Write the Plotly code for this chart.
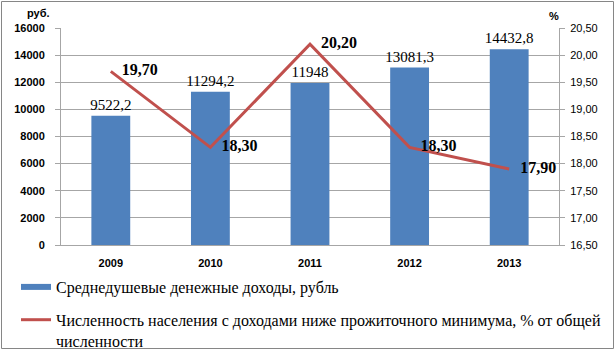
import plotly.graph_objects as go

years = ["2009", "2010", "2011", "2012", "2013"]
income = [9522.2, 11294.2, 11948, 13081.3, 14432.8]
poverty = [19.70, 18.30, 20.20, 18.30, 17.90]

name_income = "Среднедушевые денежные доходы, рубль"
name_poverty = "Численность населения с доходами ниже прожиточного минимума, % от общей<br>численности"

BLUE = "#4F81BD"
RED = "#C0504D"
GRID = "#A6A6A6"


def fmt(v):
    s = ("%g" % v)
    return s.replace(".", ",")


income_text = [fmt(v) for v in income]

W, H = 616, 355
ML, MR, MT, MB = 61, 57, 28, 110
PW = W - ML - MR
PH = H - MT - MB


def px_x(x):
    return (x - ML) / PW


def px_y(y):
    return (MT + PH - y) / PH


fig = go.Figure()
fig.add_trace(go.Bar(
    x=years, y=income, marker=dict(color=BLUE, line=dict(width=0)),
    text=income_text, textposition="outside", cliponaxis=False,
    constraintext="none",
    textfont=dict(family="Liberation Serif", size=15, color="#000"),
    showlegend=False, name=name_income, hoverinfo="skip",
))
fig.add_trace(go.Scatter(
    x=years, y=poverty, yaxis="y2", mode="lines+markers+text",
    line=dict(color=RED, width=3),
    marker=dict(size=16, opacity=0, color=RED),
    texttemplate="%{y:.2f}", textposition="middle right",
    textfont=dict(family="Liberation Serif", size=16, color="#000", weight="bold"),
    cliponaxis=False, showlegend=False, name=name_poverty,
))
# legend entries
fig.add_trace(go.Scatter(x=[None], y=[None], mode="lines", name=name_income,
                         line=dict(color=BLUE, width=6), legendgroup="a"))
fig.add_trace(go.Scatter(x=[None], y=[None], mode="lines", name=name_poverty,
                         line=dict(color=RED, width=3), legendgroup="b", yaxis="y2"))

fig.update_layout(
    width=W, height=H,
    margin=dict(l=ML, r=MR, t=MT, b=MB, autoexpand=False),
    paper_bgcolor="white", plot_bgcolor="white",
    separators=", ",
    bargap=0.61,
    font=dict(family="Liberation Sans", color="#000"),
    xaxis=dict(type="category", showline=True, linecolor=GRID, linewidth=1,
               ticks="", tickfont=dict(size=11, weight="bold"), showgrid=False,
               ticklabelstandoff=8),
    yaxis=dict(range=[0, 16000], dtick=2000, tickformat="d", showline=True,
               linecolor=GRID, gridcolor=GRID, gridwidth=1, ticks="outside",
               ticklen=5, tickcolor=GRID, tickfont=dict(size=11, weight="bold"),
               zeroline=False, ticklabelstandoff=8),
    yaxis2=dict(range=[16.5, 20.5], dtick=0.5, tickformat=".2f", overlaying="y",
                side="right", showline=True, linecolor=GRID, ticks="outside",
                ticklen=5, tickcolor=GRID, showgrid=False, zeroline=False,
                tickfont=dict(size=11), ticklabelstandoff=3),
    legend=dict(x=px_x(16), xanchor="left", y=px_y(270),
                yanchor="top", orientation="v", traceorder="grouped",
                tracegroupgap=9, valign="top",
                font=dict(family="Liberation Serif", size=16, color="#000"),
                bgcolor="rgba(0,0,0,0)"),
    annotations=[
        dict(text="руб.", xref="paper", yref="paper", x=px_x(38), y=px_y(13),
             xanchor="center", yanchor="middle", showarrow=False,
             font=dict(size=11, weight="bold")),
        dict(text="%", xref="paper", yref="paper", x=px_x(554), y=px_y(16),
             xanchor="center", yanchor="middle", showarrow=False,
             font=dict(size=11, weight="bold")),
    ],
    shapes=[dict(type="rect", xref="paper", yref="paper",
                 x0=px_x(1.5), x1=px_x(613.5), y0=px_y(348.5), y1=px_y(1.5),
                 line=dict(color="#868686", width=1))],
)

fig.write_html("out.html", config={"displayModeBar": False},
               post_script="document.body.style.margin='0';document.body.style.overflow='hidden';")
